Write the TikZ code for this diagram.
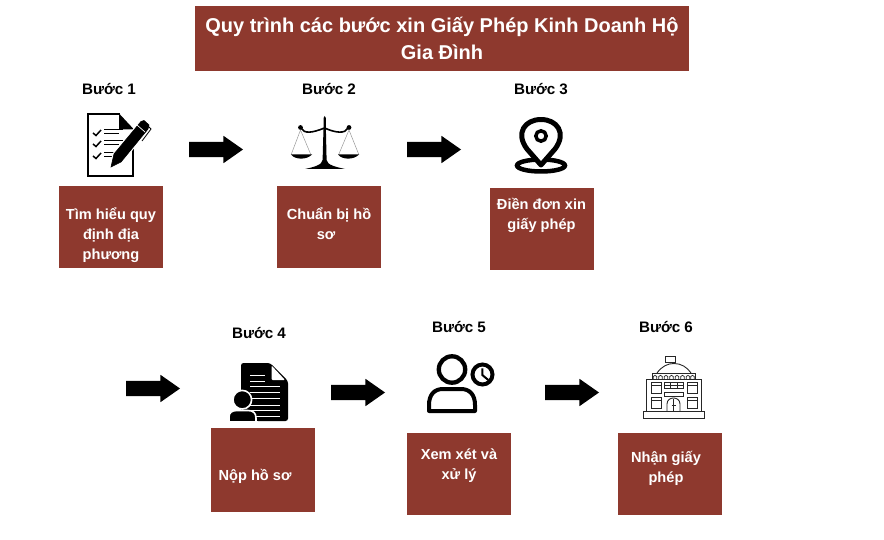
\documentclass[tikz,border=0pt]{standalone}
\usepackage{fontspec}
\setmainfont{Liberation Sans}
\usepackage{xcolor}
\usetikzlibrary{shapes.arrows}
\definecolor{boxred}{HTML}{8E392E}

\begin{document}
\begin{tikzpicture}[%
	x=1pt,y=-1pt,
	box/.style={fill=boxred,draw=none,inner sep=0pt,minimum width=104pt,minimum height=82pt},
	boxtext/.style={text=white,font=\fontsize{14.6}{20}\selectfont\bfseries,align=center,inner sep=0pt},
	steplabel/.style={text=black,font=\fontsize{15.2}{17}\selectfont\bfseries,inner sep=0pt},
	blockarrow/.style={single arrow,fill=black,draw=none,inner xsep=0pt,inner ysep=7.5pt,minimum height=54pt,
		single arrow head extend=6pt,single arrow tip angle=70},
	thinline/.style={draw=black!85,line width=0.9pt}]
	\useasboundingbox (0,0) rectangle (884,540);

	\node[box,minimum width=494pt,minimum height=65pt] (title) at (442,38.5) {};
	\node[text=white,font=\fontsize{20}{27}\selectfont\bfseries,align=center,inner sep=0pt] (titletext) at (442,38.5)
		{Quy trình các bước xin Giấy Phép Kinh Doanh Hộ\\Gia Đình};

	\node[steplabel] (label1) at (109,89) {Bước 1};
	\node[steplabel] (label2) at (329,89) {Bước 2};
	\node[steplabel] (label3) at (541,89) {Bước 3};
	\node[steplabel] (label4) at (259,333) {Bước 4};
	\node[steplabel] (label5) at (459,327) {Bước 5};
	\node[steplabel] (label6) at (666,327) {Bước 6};

	\node[box] (box1) at (111,227) {};
	\node[box] (box2) at (329,227) {};
	\node[box] (box3) at (542,229) {};
	\node[box,minimum height=84pt] (box4) at (263,470) {};
	\node[box] (box5) at (459,474) {};
	\node[box] (box6) at (670,474) {};

	\node[boxtext] (text1) at (111,235) {Tìm hiểu quy\\định địa\\phương};
	\node[boxtext] (text2) at (329,224) {Chuẩn bị hồ\\sơ\hspace*{6pt}};
	\node[boxtext] (text3) at (541.5,215) {Điền đơn xin\\giấy phép};
	\node[boxtext] (text4) at (255,476) {Nộp hồ sơ};
	\node[boxtext] (text5) at (459,466) {Xem xét và\\xử lý};
	\node[boxtext] (text6) at (666,468) {Nhận giấy\\phép};

	\node[blockarrow] (arrow1) at (210.5,149.5) {};
	\node[blockarrow] (arrow2) at (428.5,149.5) {};
	\node[blockarrow] (arrow3) at (147.5,388.5) {};
	\node[blockarrow] (arrow4) at (352.5,392.5) {};
	\node[blockarrow] (arrow5) at (566.5,392.5) {};

	% checklist
	\draw[black,line width=1.3pt] (120,114) -- (88,114) -- (88,176) -- (133,176) -- (133,129);
	\fill[black] (119,113.4) -- (134,129.5) -- (119,129.5) -- cycle;
	\foreach \y in {133,144,156} {
		\draw[black,line width=1.5pt] (93,\y) -- (96,\y+2.5) -- (101,\y-3);
		\draw[black,line width=1.3pt] (104,\y-3.5) -- (123,\y-3.5);
		\draw[black,line width=1.3pt] (104,\y+.5) -- (119,\y+.5);
	}
	\draw[black,fill=black,line width=.6pt,preaction={draw=white,line width=3pt}]
		(111,167) -- (114,154) -- (141,121.5) -- (144,120.5) -- (149,125) -- (148,129) -- (121,162) -- cycle;
	\draw[white,line width=.7pt] (137,125) -- (145,132);
	\draw[black,line width=.8pt] (147,125) -- (151,129) -- (142,141);

	% scales
	\fill[black] (323.6,125) -- (323.6,118) -- (324.7,116) -- (325.8,118) -- (325.8,125) -- (326.6,160)
		.. controls (327,165) and (336,167) .. (345,169) -- (305,169)
		.. controls (314,167) and (322,165) .. (322.6,160) -- cycle;
	\draw[black,line width=1.6pt] (301,128) .. controls (304,134) and (312,133) .. (324.5,128)
		.. controls (336,133) and (345,134) .. (348,128);
	\fill[black] (300.5,127.5) circle (2.4) (349,127.5) circle (2.4);
	\draw[black!40,line width=.5pt] (291,155) -- (300.5,130) -- (311,155)
		(338.5,155) -- (349,130) -- (359,155);
	\fill[black] (291,154.5) .. controls (295,160) and (307,160) .. (312,154.5) -- cycle;
	\fill[black] (338,154.5) .. controls (342,160) and (354,160) .. (359,154.5) -- cycle;

	% map pin
	\draw[black,line width=4.5pt] (541,165.5) ellipse (24 and 6);
	\draw[black,fill=white,line width=5pt,line join=round] (541,165) -- (527,149)
		.. controls (515,133) and (525,119.5) .. (541,119.5)
		.. controls (557,119.5) and (567,133) .. (555,149) -- cycle;
	\draw[black,line width=3.5pt] (541,136) circle (5.2);

	% document with person
	\fill[black,rounded corners=2.5pt] (241,363) -- (270,363) -- (288,381) -- (288,421) -- (241,421) -- cycle;
	\fill[white,rounded corners=1pt] (271.5,365.5) -- (285,380) -- (271.5,380) -- cycle;
	\foreach \y in {375,381} \draw[white,line width=1pt] (250,\y) -- (265,\y);
	\foreach \y in {386.5,392,398.5,405,410.5,416} \draw[white,line width=1pt] (250,\y) -- (280,\y);
	\fill[black,draw=white,line width=1.6pt] (242.3,399.7) circle (9.3);
	\fill[black,draw=white,line width=1.6pt] (229,423) -- (229,417) .. controls (229,412.5) and (232,410.5) .. (237,410.5)
		-- (248,410.5) .. controls (253,410.5) and (256,413) .. (256,418) -- (256,423) -- cycle;
	\fill[white] (228,421) rectangle (258,426);

	% person with clock
	\draw[black,line width=4.3pt] (452,369.5) circle (13.2);
	\draw[black,line width=4pt,line join=round] (429,411) -- (429,405)
		.. controls (429,395) and (434,389) .. (443,389) -- (461,389)
		.. controls (470,389) and (475,395) .. (475,405) -- (475,411) -- cycle;
	\draw[black,fill=white,line width=4pt] (482.5,374.5) circle (10);
	\draw[black,line width=2pt] (482.3,368.3) -- (482.3,375) -- (488.3,380);

	% town hall
	\draw[thinline] (673,363) -- (673,356);
	\draw[thinline,fill=white] (665,356) rectangle (675,362);
	\draw[thinline] (657,373) .. controls (662,366) and (668,363.5) .. (674,363.5) .. controls (681,363.5) and (687,367) .. (691,373);
	\draw[thinline] (652,379) -- (652,373.5) -- (695,373.5) -- (695,379);
	\foreach \x in {655,660.5,666,671.5,677,682.5,688,692.5}
		\draw[black!85,line width=.7pt] (\x-1.8,379) -- (\x-1.8,376.5) .. controls (\x-1.8,375) and (\x+1.8,375) .. (\x+1.8,376.5) -- (\x+1.8,379);
	\draw[thinline] (646,411) -- (646,379) -- (701,379) -- (701,411);
	\draw[thinline] (643,411) rectangle (704,418);
	\foreach \x in {651,687} {
		\draw[thinline] (\x,382) rectangle (\x+10,393);
		\draw[thinline] (\x,397) rectangle (\x+10,408);
		\draw[black!85,line width=.6pt] (\x,385) -- (\x+10,385) (\x,400) -- (\x+10,400);
	}
	\draw[thinline] (664,382) rectangle (683,388);
	\draw[black!85,line width=.6pt] (664,385) -- (683,385) (670.5,382) -- (670.5,388) (677,382) -- (677,388);
	\draw[thinline] (664,392) rectangle (683,396);
	\draw[thinline] (667,411) -- (667,404) .. controls (667,396) and (680,396) .. (680,404) -- (680,411);
	\draw[black!85,line width=.6pt] (673.5,399) -- (673.5,411) (671.5,405) -- (675.5,405);
\end{tikzpicture}
\end{document}
